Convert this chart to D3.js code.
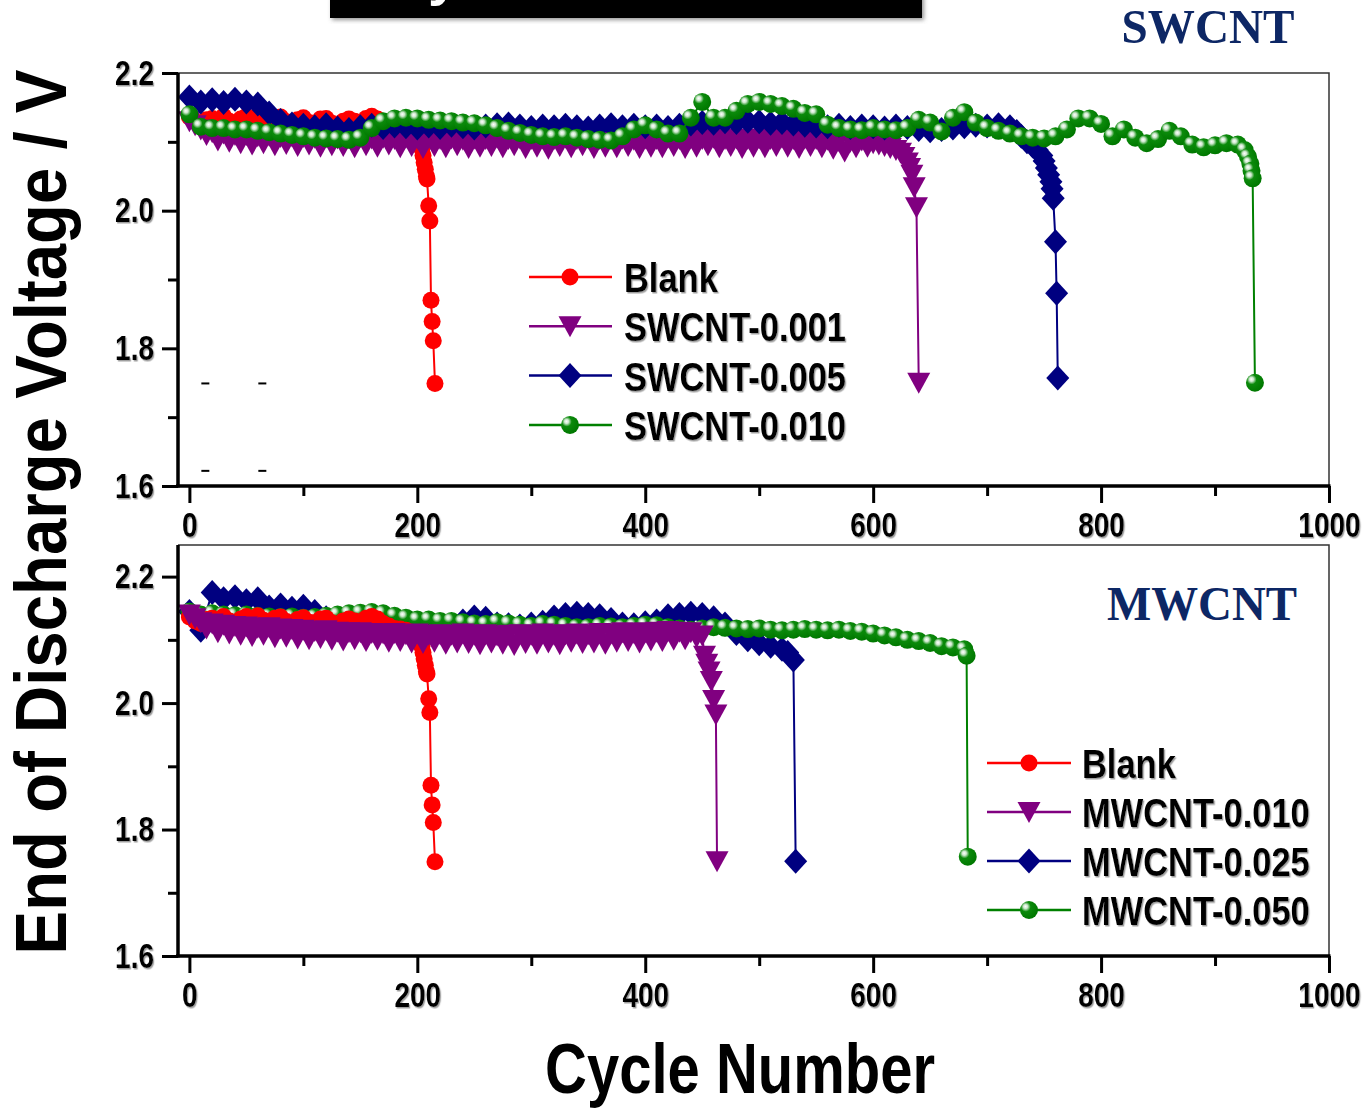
<!DOCTYPE html>
<html>
<head>
<meta charset="utf-8">
<script src="https://cdn.jsdelivr.net/npm/d3@7"></script>
<style>
  body { margin: 0; background: #fff; }
  svg { display: block; }
</style>
</head>
<body>
<svg id="chart"></svg>
<script>
// values read every 5 or 10 cycles, then the end-of-life drop as [cycle, V]
const blankValues = [2.136, 2.130, 2.126, 2.132, 2.134, 2.128, 2.137, 2.130, 2.127, 2.133,
  2.137, 2.129, 2.138, 2.131, 2.128, 2.134, 2.136, 2.129, 2.126, 2.132,
  2.135, 2.128, 2.127, 2.133, 2.134, 2.127, 2.124, 2.130, 2.133, 2.130,
  2.128, 2.134, 2.137, 2.133, 2.126, 2.122, 2.118, 2.117, 2.115, 2.112, 2.108];
const blankTail = [[202, 2.100], [204, 2.090], [205, 2.080], [206, 2.070], [207, 2.060],
  [208, 2.050], [208.5, 2.046], [210, 2.007], [211, 1.985], [212, 1.870], [213, 1.839],
  [214, 1.811], [215.5, 1.749]];

const sw001Values = [2.130, 2.124, 2.118, 2.110, 2.114, 2.102, 2.112, 2.100, 2.110, 2.098,
  2.110, 2.096, 2.108, 2.098, 2.109, 2.095, 2.107, 2.097, 2.108, 2.094,
  2.107, 2.096, 2.106, 2.093, 2.107, 2.095, 2.105, 2.094, 2.106, 2.092,
  2.107, 2.095, 2.105, 2.093, 2.106, 2.096, 2.104, 2.092, 2.106, 2.094,
  2.105, 2.091, 2.106, 2.094, 2.104, 2.092, 2.105, 2.095, 2.103, 2.091,
  2.105, 2.093, 2.104, 2.094, 2.106, 2.092, 2.104, 2.095, 2.105, 2.091,
  2.104, 2.093, 2.105, 2.090, 2.104, 2.094, 2.106, 2.092, 2.104, 2.095,
  2.105, 2.091, 2.104, 2.093, 2.106, 2.092, 2.105, 2.094, 2.103, 2.091,
  2.105, 2.093, 2.104, 2.092, 2.106, 2.094, 2.104, 2.091, 2.105, 2.093,
  2.104, 2.095, 2.106, 2.092, 2.104, 2.094, 2.105, 2.091, 2.104, 2.093,
  2.105, 2.092, 2.104, 2.094, 2.106, 2.093, 2.104, 2.091, 2.105, 2.094,
  2.104, 2.092, 2.103, 2.090, 2.101, 2.086, 2.100, 2.092, 2.102, 2.093, 2.098];
const sw001Tail = [[605, 2.096], [610, 2.094], [615, 2.091], [620, 2.088], [624, 2.084],
  [627, 2.078], [630, 2.070], [632, 2.062], [634, 2.052], [636, 2.034], [638, 2.005], [640, 1.750]];

const sw005Values = [2.165, 2.158, 2.161, 2.157, 2.162, 2.158, 2.155, 2.142, 2.131, 2.126,
  2.124, 2.122, 2.125, 2.120, 2.118, 2.122, 2.124, 2.121, 2.123, 2.122,
  2.120, 2.123, 2.121, 2.124, 2.122, 2.120, 2.123, 2.125, 2.126, 2.123,
  2.121, 2.123, 2.122, 2.124, 2.122, 2.120, 2.123, 2.125, 2.122, 2.124,
  2.122, 2.123, 2.121, 2.124, 2.126, 2.128, 2.127, 2.129, 2.128, 2.130,
  2.129, 2.127, 2.128, 2.126, 2.124, 2.123, 2.122, 2.124, 2.121, 2.123,
  2.122, 2.120, 2.123, 2.121, 2.118, 2.116, 2.118, 2.120, 2.122, 2.124,
  2.123, 2.125, 2.122];
const sw005Tail = [[726, 2.115], [730, 2.108], [735, 2.100], [740, 2.094], [744, 2.088],
  [748, 2.080], [750, 2.072], [752, 2.062], [754, 2.052], [756, 2.042], [757, 2.032],
  [758, 2.018], [760, 1.955], [761, 1.880], [762, 1.757]];

const sw010Values = [2.140, 2.122, 2.120, 2.120, 2.118, 2.118, 2.116, 2.114, 2.112, 2.110,
  2.108, 2.106, 2.105, 2.104, 2.103, 2.106, 2.120, 2.130, 2.134, 2.135,
  2.134, 2.132, 2.131, 2.130, 2.128, 2.127, 2.124, 2.120, 2.116, 2.113,
  2.110, 2.108, 2.107, 2.108, 2.106, 2.104, 2.103, 2.102, 2.108, 2.118,
  2.124, 2.118, 2.112, 2.112, 2.135, 2.158, 2.135, 2.135, 2.145, 2.155,
  2.158, 2.155, 2.152, 2.148, 2.142, 2.140, 2.125, 2.120, 2.118, 2.117,
  2.120, 2.118, 2.117, 2.120, 2.132, 2.128, 2.115, 2.135, 2.143, 2.128,
  2.120, 2.116, 2.112, 2.108, 2.106, 2.105, 2.108, 2.118, 2.134, 2.134,
  2.126, 2.108, 2.118, 2.106, 2.098, 2.104, 2.116, 2.108, 2.096, 2.092,
  2.095, 2.098, 2.096];
const sw010Tail = [[926, 2.088], [929, 2.078], [931, 2.068], [932, 2.058], [933, 2.047], [935, 1.750]];

const mw010Values = [2.140, 2.134, 2.128, 2.118, 2.126, 2.112, 2.124, 2.110, 2.122, 2.108,
  2.121, 2.106, 2.119, 2.108, 2.120, 2.104, 2.118, 2.105, 2.117, 2.102,
  2.116, 2.101, 2.114, 2.103, 2.115, 2.100, 2.113, 2.099, 2.112, 2.101,
  2.112, 2.098, 2.111, 2.100, 2.110, 2.097, 2.111, 2.098, 2.109, 2.096,
  2.110, 2.095, 2.108, 2.097, 2.109, 2.094, 2.108, 2.096, 2.110, 2.095,
  2.108, 2.093, 2.109, 2.096, 2.107, 2.094, 2.108, 2.092, 2.109, 2.095,
  2.108, 2.094, 2.110, 2.096, 2.108, 2.093, 2.109, 2.097, 2.110, 2.095,
  2.109, 2.096, 2.111, 2.094, 2.110, 2.097, 2.112, 2.098, 2.111, 2.096,
  2.112, 2.099, 2.113, 2.098, 2.114, 2.100, 2.113, 2.101, 2.112, 2.104, 2.107];
const mw010Tail = [[452, 2.075], [454, 2.062], [456, 2.050], [458, 2.035], [460, 2.005],
  [462, 1.982], [463, 1.750]];

const mw025Values = [2.145, 2.115, 2.175, 2.165, 2.168, 2.162, 2.165, 2.152, 2.155, 2.150,
  2.153, 2.145, 2.135, 2.128, 2.125, 2.124, 2.126, 2.123, 2.125, 2.122,
  2.124, 2.120, 2.122, 2.124, 2.130, 2.136, 2.134, 2.125, 2.124, 2.122,
  2.125, 2.128, 2.136, 2.140, 2.142, 2.140, 2.138, 2.132, 2.125, 2.124,
  2.127, 2.130, 2.138, 2.140, 2.142, 2.140, 2.135, 2.125, 2.110, 2.100,
  2.094, 2.090, 2.085];
const mw025Tail = [[525, 2.080], [530, 2.068], [532, 1.750]];

const mw050Values = [2.145, 2.140, 2.142, 2.140, 2.139, 2.140, 2.138, 2.137, 2.136, 2.137,
  2.135, 2.136, 2.138, 2.140, 2.142, 2.143, 2.144, 2.142, 2.138, 2.135,
  2.132, 2.132, 2.130, 2.130, 2.128, 2.126, 2.125, 2.128, 2.126, 2.124,
  2.122, 2.125, 2.124, 2.122, 2.120, 2.120, 2.122, 2.121, 2.120, 2.122,
  2.124, 2.123, 2.120, 2.118, 2.116, 2.118, 2.120, 2.119, 2.118, 2.117,
  2.118, 2.116, 2.115, 2.116, 2.117, 2.116, 2.115, 2.116, 2.114, 2.113,
  2.110, 2.107, 2.104, 2.100, 2.098, 2.095, 2.090, 2.088, 2.085];
const mw050Tail = [[682, 2.075], [683, 1.757]];

// stray dashes left in the upper panel
const strayMarks = [[14, 1.749], [64, 1.749], [14, 1.622], [64, 1.622]];

const xTicks = [0, 200, 400, 600, 800, 1000];
const xMinorTicks = [100, 300, 500, 700, 900];
const yTicks = [1.6, 1.8, 2.0, 2.2];
const yMinorTicks = [1.7, 1.9, 2.1];

const toPoints = (values, tail, step) => values.map((v, i) => [i * step, v]).concat(tail);

const markerPaths = {
  triangle: "M-11.5,-10L11.5,-10L0,11Z",
  diamond: "M0,-12.5L11.5,0L0,12.5L-11.5,0Z",
};

const FONT = "'Liberation Sans', Arial, sans-serif";

// squeeze bold Arial into the narrow look of the original
function condense(sel, k) {
  sel.each(function () {
    const t = d3.select(this);
    const x = +t.attr("x") || 0, y = +t.attr("y") || 0;
    t.attr("x", 0).attr("y", 0).attr("transform", `translate(${x},${y}) scale(${k},1)`);
  });
}
function fitWidth(sel, base, w) {
  const n = sel.node().getComputedTextLength();
  sel.attr("transform", `${base} scale(${w / n},1)`);
}

const svg = d3.select("#chart").attr("width", 1367).attr("height", 1110);
svg.append("rect").attr("width", 1367).attr("height", 1110).attr("fill", "#fff");

const defs = svg.append("defs");
const ball = defs.append("radialGradient").attr("id", "ball")
  .attr("cx", "35%").attr("cy", "35%").attr("r", "65%").attr("fx", "30%").attr("fy", "30%");
ball.append("stop").attr("offset", "0%").attr("stop-color", "#ffffff");
ball.append("stop").attr("offset", "18%").attr("stop-color", "#cde8cd");
ball.append("stop").attr("offset", "42%").attr("stop-color", "#0b8a0b");
ball.append("stop").attr("offset", "100%").attr("stop-color", "#007800");

defs.append("filter").attr("id", "shadow").attr("x", "-10%").attr("y", "-10%")
  .attr("width", "130%").attr("height", "130%")
  .append("feDropShadow").attr("dx", 1.5).attr("dy", 1.5).attr("stdDeviation", 0.6)
  .attr("flood-color", "#888").attr("flood-opacity", 0.8);
defs.append("filter").attr("id", "boxShadow")
  .append("feDropShadow").attr("dx", 2).attr("dy", 2).attr("stdDeviation", 2)
  .attr("flood-color", "#666").attr("flood-opacity", 0.7);

class DischargePanel {
  constructor(_config, _series) {
    this.config = _config;
    this.series = _series;
    this.initVis();
  }

  initVis() {
    let vis = this;
    const c = vis.config;

    vis.x = d3.scaleLinear().domain([-10, 1000]).range([178, 1329]);
    vis.y = d3.scaleLinear().domain(c.yDomain).range([c.bottom, c.top]);

    vis.g = svg.append("g");

    // thin frame on top / right
    vis.g.append("path")
      .attr("d", `M178,${c.top}H1329V${c.bottom}`)
      .attr("fill", "none").attr("stroke", "#333").attr("stroke-width", 1.5);

    vis.plot = vis.g.append("g");

    // axes
    const xMajor = d3.axisBottom(vis.x).tickValues(xTicks).tickSize(17).tickSizeOuter(0)
      .tickFormat(d3.format("d"));
    const xMinor = d3.axisBottom(vis.x).tickValues(xMinorTicks).tickSize(10).tickFormat("");
    const yMajor = d3.axisLeft(vis.y).tickValues(yTicks).tickSize(16).tickSizeOuter(0)
      .tickFormat(d3.format(".1f"));
    const yMinor = d3.axisLeft(vis.y).tickValues(yMinorTicks).tickSize(10).tickFormat("");

    vis.axes = vis.g.append("g");
    const xg = vis.axes.append("g").attr("transform", `translate(0,${c.bottom})`);
    xg.append("g").call(xMajor);
    xg.append("g").call(xMinor);
    const yg = vis.axes.append("g").attr("transform", "translate(178,0)");
    yg.append("g").call(yMajor);
    yg.append("g").call(yMinor);

    vis.axes.selectAll(".domain").remove();
    vis.axes.selectAll(".tick line").attr("stroke", "#000").attr("stroke-width", 3);
    vis.axes.selectAll(".tick text")
      .attr("fill", "#000")
      .style("font-family", FONT).style("font-weight", "bold").style("font-size", "35px")
      .attr("filter", "url(#shadow)");
    xg.selectAll(".tick text").attr("y", 26);
    yg.selectAll(".tick text").attr("x", -24);
    condense(vis.axes.selectAll(".tick text"), 0.8);

    vis.axes.append("line").attr("x1", 178).attr("x2", 178)
      .attr("y1", c.top).attr("y2", c.bottom + 1.5)
      .attr("stroke", "#000").attr("stroke-width", 3.5);
    vis.axes.append("line").attr("x1", 176).attr("x2", 1330.5)
      .attr("y1", c.bottom).attr("y2", c.bottom)
      .attr("stroke", "#000").attr("stroke-width", 3.5);

    // panel name
    const name = vis.g.append("text")
      .attr("text-anchor", "middle")
      .style("font-family", "'Liberation Serif', 'Times New Roman', serif")
      .style("font-weight", "bold").style("font-size", "49px")
      .attr("fill", "#0d2765")
      .text(c.label.text);
    fitWidth(name, `translate(${c.label.x},${c.label.y})`, c.label.w);

    vis.renderVis();
  }

  drawMarkers(g, s, data, px, py) {
    if (s.marker === "circle" || s.marker === "ball") {
      g.selectAll("circle").data(data).join("circle")
        .attr("cx", px).attr("cy", py)
        .attr("r", s.marker === "ball" ? 9 : 8.5)
        .attr("fill", s.marker === "ball" ? "url(#ball)" : s.color);
    } else {
      g.selectAll("path.mk").data(data).join("path")
        .attr("class", "mk")
        .attr("d", markerPaths[s.marker])
        .attr("transform", (d, i) => `translate(${px(d, i)},${py(d, i)})`)
        .attr("fill", s.color);
    }
  }

  renderVis() {
    let vis = this;
    const c = vis.config;

    const line = d3.line().x(d => vis.x(d[0])).y(d => vis.y(d[1]));

    c.drawOrder.forEach(idx => {
      const s = vis.series[idx];
      const pts = toPoints(s.values, s.tail, s.step);
      const g = vis.plot.append("g");
      g.append("path").datum(pts).attr("d", line)
        .attr("fill", "none").attr("stroke", s.color).attr("stroke-width", 2);
      vis.drawMarkers(g, s, pts, d => vis.x(d[0]), d => vis.y(d[1]));
    });

    if (c.stray) {
      vis.plot.selectAll(".stray").data(c.stray).join("line")
        .attr("class", "stray")
        .attr("x1", d => vis.x(d[0]) - 4).attr("x2", d => vis.x(d[0]) + 4)
        .attr("y1", d => vis.y(d[1])).attr("y2", d => vis.y(d[1]))
        .attr("stroke", "#000").attr("stroke-width", 2);
    }

    // legend
    const L = c.legend;
    const rows = vis.g.append("g").selectAll("g").data(vis.series).join("g")
      .attr("transform", (d, i) => `translate(0,${L.y0 + i * L.dy})`);
    rows.append("line").attr("x1", L.x1).attr("x2", L.x2)
      .attr("stroke", d => d.color).attr("stroke-width", 2.5);
    rows.each(function (s) {
      vis.drawMarkers(d3.select(this), s, [0], () => L.mx, () => 0);
    });
    const labels = rows.append("text")
      .attr("x", L.tx).attr("y", 15)
      .style("font-family", FONT).style("font-weight", "bold").style("font-size", "41px")
      .attr("fill", "#000").attr("filter", "url(#shadow)")
      .text(d => d.name);
    condense(labels, 0.84);
  }
}

const swcntSeries = [
  { name: "Blank", color: "#ff0000", marker: "circle", step: 5, values: blankValues, tail: blankTail },
  { name: "SWCNT-0.001", color: "#800080", marker: "triangle", step: 5, values: sw001Values, tail: sw001Tail },
  { name: "SWCNT-0.005", color: "#000080", marker: "diamond", step: 10, values: sw005Values, tail: sw005Tail },
  { name: "SWCNT-0.010", color: "#008000", marker: "ball", step: 10, values: sw010Values, tail: sw010Tail },
];
const mwcntSeries = [
  { name: "Blank", color: "#ff0000", marker: "circle", step: 5, values: blankValues, tail: blankTail },
  { name: "MWCNT-0.010", color: "#800080", marker: "triangle", step: 5, values: mw010Values, tail: mw010Tail },
  { name: "MWCNT-0.025", color: "#000080", marker: "diamond", step: 10, values: mw025Values, tail: mw025Tail },
  { name: "MWCNT-0.050", color: "#008000", marker: "ball", step: 10, values: mw050Values, tail: mw050Tail },
];

new DischargePanel({
  top: 73, bottom: 486, yDomain: [1.6, 2.2],
  drawOrder: [0, 1, 2, 3],
  legend: { x1: 529, x2: 612, mx: 570, tx: 624, y0: 277, dy: 49.3 },
  label: { text: "SWCNT", x: 1208, y: 43, w: 173 },
  stray: strayMarks,
}, swcntSeries);

new DischargePanel({
  top: 545, bottom: 956, yDomain: [1.6, 2.25],
  drawOrder: [2, 3, 0, 1],
  legend: { x1: 987, x2: 1071, mx: 1029, tx: 1082, y0: 763, dy: 49 },
  label: { text: "MWCNT", x: 1202, y: 620, w: 190 },
}, mwcntSeries);

// shared axis titles
const yTitle = svg.append("text")
  .attr("text-anchor", "middle")
  .style("font-family", FONT).style("font-weight", "bold").style("font-size", "72px")
  .attr("fill", "#000")
  .text("End of Discharge Voltage / V");
fitWidth(yTitle, "translate(66,512) rotate(-90)", 885);

const xTitle = svg.append("text")
  .attr("text-anchor", "middle")
  .style("font-family", FONT).style("font-weight", "bold").style("font-size", "70px")
  .attr("fill", "#000")
  .text("Cycle Number");
fitWidth(xTitle, "translate(740,1093)", 390);

// black title box cut off at the top edge
svg.append("rect")
  .attr("x", 330).attr("y", -40).attr("width", 592).attr("height", 58)
  .attr("fill", "#000").attr("filter", "url(#boxShadow)");
svg.append("text")
  .attr("x", 428).attr("y", -6)
  .style("font-family", FONT).style("font-weight", "bold").style("font-size", "56px")
  .attr("fill", "#fff")
  .text("y");
</script>
</body>
</html>
